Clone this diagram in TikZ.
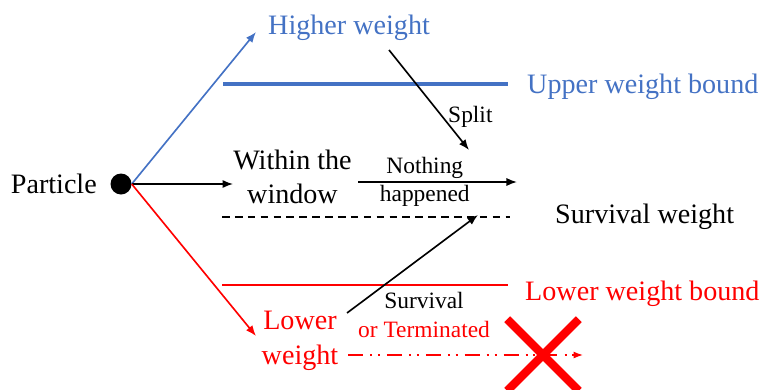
\documentclass[tikz,border=0pt]{standalone}
\usepackage{fontspec}
\setmainfont{Liberation Serif}
\usetikzlibrary{arrows.meta,positioning,calc,shapes.misc}
\definecolor{WinBlue}{HTML}{4472C4}
\definecolor{WinRed}{HTML}{FF0000}

\begin{document}
\begin{tikzpicture}[x=0.03cm, y=-0.03cm,
    every node/.style={inner sep=0pt, font=\fontsize{24}{29.5}\selectfont},
    small/.style={font=\fontsize{20}{24.5}\selectfont},
    arr/.style={-{Latex[length=9pt,width=7pt]}, line width=1.4pt}]
    \useasboundingbox (0,0) rectangle (763,389);
    \node[circle, fill=black, minimum size=0.63cm] (p) at (121,184) {};
    \node[anchor=base east] (particle) at (97,193) {Particle};
    \node[anchor=base west, WinBlue] (high) at (268,34) {Higher weight};
    \node[align=center] (win) at (292.5,177) {Within the\\window};
    \node[align=center, WinRed] (low) at (300,341) {Lower\\weight};
    \node[anchor=base west, WinBlue] (ub) at (527,93) {Upper weight bound};
    \node[anchor=base west] (sw) at (555,223) {Survival weight};
    \node[anchor=base west, WinRed] (lb) at (525,300) {Lower weight bound};
    \node[small, anchor=base west] (split) at (448,122) {Split};
    \node[small, anchor=base] (surv) at (424,308) {Survival};
    \node[small, anchor=base, WinRed] (term) at (424,337) {or Terminated};
    \node[cross out, draw=WinRed, line width=7pt, minimum size=1.9cm] (kill) at (543,355) {};
    \coordinate (hightip) at (256,32);
    \coordinate (lowtip) at (256,336);
    \coordinate (splitfrom) at (389,50);
    \coordinate (splitto) at (469,150);
    \coordinate (survfrom) at (347,313);
    \coordinate (survto) at (478,215);
    \coordinate (nhfrom) at (358,182);
    \coordinate (nhto) at (517,182);
    \coordinate (killfrom) at (348,355);
    \coordinate (killto) at (583,355);
    \draw[WinBlue, line width=2.6pt] (223,84) -- (508,84);
    \draw[line width=1.1pt, dash pattern=on 6.5pt off 4.5pt] (222,217) -- (510,217);
    \draw[WinRed, line width=1.9pt] (222,285) -- (508,285);
    \draw[arr, WinBlue] (p.east) -- (hightip);
    \draw[arr] (p.east) -- (p.east -| win.west);
    \draw[arr, WinRed] (p.east) -- (lowtip);
    \draw[arr] (splitfrom) -- (splitto);
    \draw[arr] (nhfrom) -- node[small, align=center, pos=0.42] (nh) {Nothing\\happened} (nhto);
    \draw[arr] (survfrom) -- (survto);
    \draw[-{Latex[length=8pt,width=6pt]}, line width=1.3pt, WinRed,
        dash pattern=on 12.8pt off 6pt on 1.7pt off 5pt on 1.7pt off 6pt] (killfrom) -- (killto);
  \end{tikzpicture}
\end{document}
